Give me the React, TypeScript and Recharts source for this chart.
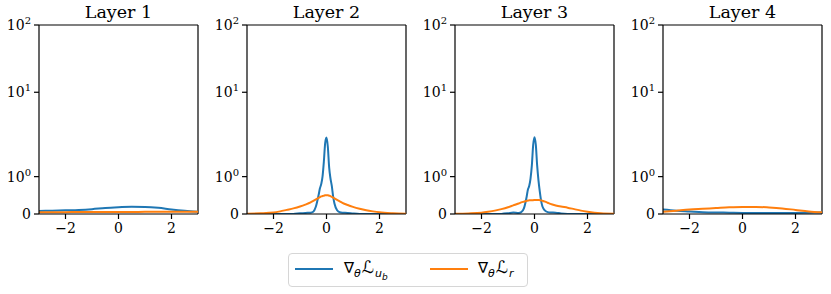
import React from 'react';
import { LineChart, Line, XAxis, YAxis, ReferenceLine } from 'recharts';

// x grids (gradient value axis)
const X_WIDE = [-3, -2.5, -2, -1.5, -1, -0.5, 0, 0.5, 1, 1.5, 2, 2.5, 3];
const X_DENSE = [
  -3, -2.5, -2, -1.75, -1.5, -1.25, -1, -0.8, -0.6, -0.5, -0.4, -0.3, -0.25, -0.2, -0.15, -0.1, -0.05,
  0, 0.05, 0.1, 0.15, 0.2, 0.25, 0.3, 0.4, 0.5, 0.6, 0.8, 1, 1.25, 1.5, 1.75, 2, 2.5, 3,
];

// densities, layer by layer (blue = grad L_ub, orange = grad L_r)
const L1_UB = [0.08, 0.09, 0.1, 0.11, 0.13, 0.16, 0.18, 0.195, 0.19, 0.165, 0.12, 0.085, 0.06];
const L1_R = [0.05, 0.05, 0.05, 0.052, 0.053, 0.054, 0.055, 0.056, 0.057, 0.058, 0.06, 0.06, 0.062];

const L2_UB = [
  0, 0, 0, 0, 0, 0.003, 0.02, 0.03, 0.035, 0.06, 0.2, 0.5, 0.68, 0.8, 1.0, 1.4, 1.9,
  2.12, 1.8, 1.25, 0.95, 0.75, 0.47, 0.28, 0.1, 0.045, 0.035, 0.03, 0.015, 0.002, 0, 0, 0, 0, 0,
];
const L2_R = [
  0.01, 0.02, 0.04, 0.07, 0.11, 0.15, 0.2, 0.25, 0.31, 0.35, 0.39, 0.43, 0.45, 0.47, 0.48, 0.49, 0.5,
  0.5, 0.5, 0.49, 0.48, 0.46, 0.44, 0.42, 0.38, 0.34, 0.3, 0.24, 0.19, 0.14, 0.1, 0.07, 0.045, 0.02, 0.008,
];

const L3_UB = [
  0, 0, 0, 0, 0, 0.003, 0.02, 0.04, 0.03, 0.05, 0.15, 0.45, 0.65, 0.75, 0.95, 1.3, 1.85,
  2.15, 1.85, 1.3, 0.9, 0.6, 0.35, 0.2, 0.09, 0.05, 0.04, 0.035, 0.015, 0.002, 0, 0, 0, 0, 0,
];
const L3_R = [
  0.005, 0.015, 0.035, 0.06, 0.09, 0.13, 0.18, 0.23, 0.28, 0.31, 0.33, 0.35, 0.36, 0.365, 0.37, 0.37, 0.37,
  0.375, 0.375, 0.375, 0.375, 0.37, 0.365, 0.355, 0.33, 0.3, 0.27, 0.23, 0.2, 0.17, 0.13, 0.09, 0.06, 0.02, 0.008,
];

const L4_UB = [0.12, 0.09, 0.07, 0.05, 0.04, 0.035, 0.03, 0.03, 0.03, 0.03, 0.03, 0.035, 0.04];
const L4_R = [0.06, 0.09, 0.12, 0.14, 0.16, 0.18, 0.19, 0.19, 0.175, 0.15, 0.11, 0.07, 0.045];

const TITLES = ['Layer 1', 'Layer 2', 'Layer 3', 'Layer 4'];
const Y_TICKS = [0, 1, 10, 100];
const Y_LABELS = ['0', '10^0', '10^1', '10^2'];
const X_TICKS = [-2, 0, 2];

const BLUE = '#1f77b4';
const ORANGE = '#ff7f0e';
const SERIF = '"DejaVu Serif", serif';
const SANS = '"DejaVu Sans", sans-serif';

// matplotlib symlog, linthresh = 2, linscale = 1
const LINTHRESH = 2;
const LINSCALE = 1 / (1 - 1 / 10);
function symlog(v: number) {
  if (v <= LINTHRESH) return v * LINSCALE;
  return LINTHRESH * (LINSCALE + Math.log10(v / LINTHRESH));
}
const Y_TOP = symlog(100);

const panels = [
  { xs: X_WIDE, ub: L1_UB, r: L1_R },
  { xs: X_DENSE, ub: L2_UB, r: L2_R },
  { xs: X_DENSE, ub: L3_UB, r: L3_R },
  { xs: X_WIDE, ub: L4_UB, r: L4_R },
];

const PANEL_LEFT = [39, 247, 455, 663];

function YTick(props: any) {
  const { x, y, payload } = props;
  const idx = Y_TICKS.findIndex(t => Math.abs(symlog(t) - payload.value) < 1e-6);
  const lab = Y_LABELS[idx] ?? '';
  if (lab === '0') {
    return <text x={x} y={y} dy={5} textAnchor="end" fontFamily={SERIF} fontSize={14} fill="#000">0</text>;
  }
  const exp = lab.split('^')[1];
  return (
    <text x={x} y={y} dy={5} textAnchor="end" fontFamily={SERIF} fontSize={14} fill="#000">
      <tspan>10</tspan>
      <tspan dy={-6} fontSize={10}>{exp}</tspan>
    </text>
  );
}

function Panel({ idx }: { idx: number }) {
  const p = panels[idx];
  const rows = p.xs.map((x, i) => ({ x, ub: symlog(p.ub[i]), r: symlog(p.r[i]) }));
  return (
    <div style={{ position: 'absolute', left: PANEL_LEFT[idx] - 39, top: 0 }}>
      <div style={{
        position: 'absolute', left: 39, width: 159, top: 2, textAlign: 'center',
        fontFamily: SERIF, fontSize: 17.5, lineHeight: '20px', color: '#000',
      }}>{TITLES[idx]}</div>
      <LineChart width={208} height={240} data={rows} margin={{ top: 25, right: 10, left: 4, bottom: 6 }}>
        <XAxis dataKey="x" type="number" domain={[-3, 3]} ticks={X_TICKS} allowDataOverflow
          height={20} tickSize={5} tickMargin={4} stroke="#000" strokeWidth={1.2}
          tickFormatter={(v: number) => (v < 0 ? '\u2212' + Math.abs(v) : String(v))}
          tick={{ fill: '#000', fontSize: 14, fontFamily: SERIF }} />
        <YAxis type="number" domain={[0, Y_TOP]} ticks={Y_TICKS.map(symlog)} allowDataOverflow
          width={35} tickSize={5} tickMargin={3} stroke="#000" strokeWidth={1.2} tick={<YTick />} />
        <ReferenceLine x={3} stroke="#000" strokeWidth={1.2} />
        <ReferenceLine y={Y_TOP} stroke="#000" strokeWidth={1.2} />
        <Line type="monotone" dataKey="ub" stroke={BLUE} strokeWidth={2} dot={false} isAnimationActive={false} />
        <Line type="monotone" dataKey="r" stroke={ORANGE} strokeWidth={2} dot={false} isAnimationActive={false} />
      </LineChart>
    </div>
  );
}

function Sub({ children, top = 4, size = 11 }: any) {
  return <span style={{ position: 'relative', top, fontSize: size, fontStyle: 'italic' }}>{children}</span>;
}

function Cal() {
  return <span style={{ fontSize: 17, fontStyle: 'italic', margin: '0 1px' }}>ℒ</span>;
}

export default function App() {
  return (
    <div style={{ position: 'absolute', left: 0, top: 0, width: 831, height: 294, background: '#fff', overflow: 'hidden' }}>
      {[0, 1, 2, 3].map(i => <Panel key={i} idx={i} />)}

      {/* legend */}
      <div style={{
        position: 'absolute', left: 288, top: 253, width: 240, height: 34, boxSizing: 'border-box',
        border: '1px solid #d6d6d6', borderRadius: 4, fontFamily: SANS, fontSize: 15, color: '#000',
      }}>
        <svg style={{ position: 'absolute', left: 6, top: 13 }} width={38} height={4}>
          <line x1={0} y1={2} x2={38} y2={2} stroke={BLUE} strokeWidth={2} />
        </svg>
        <div style={{ position: 'absolute', left: 55, top: 5, lineHeight: '16px', whiteSpace: 'nowrap' }}>
          ∇<Sub>θ</Sub><Cal /><Sub>u<Sub top={3} size={9}>b</Sub></Sub>
        </div>
        <svg style={{ position: 'absolute', left: 141, top: 13 }} width={38} height={4}>
          <line x1={0} y1={2} x2={38} y2={2} stroke={ORANGE} strokeWidth={2} />
        </svg>
        <div style={{ position: 'absolute', left: 189, top: 5, lineHeight: '16px', whiteSpace: 'nowrap' }}>
          ∇<Sub>θ</Sub><Cal /><Sub>r</Sub>
        </div>
      </div>
    </div>
  );
}
